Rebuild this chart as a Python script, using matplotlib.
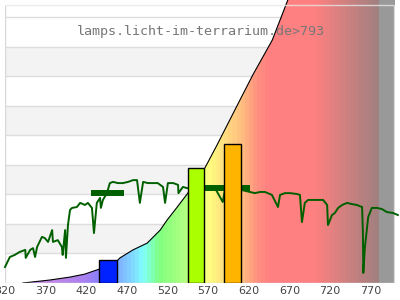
import numpy as np
import matplotlib.pyplot as plt
from matplotlib.patches import Polygon
from matplotlib.colors import to_rgb

# Spectrum of the lamp (wavelength nm, relative value)
spec_nm = [320, 326, 332, 338, 345, 345.5, 351, 354.5, 357, 359.5, 365.5, 369, 373, 378,
           379, 385, 390, 391, 394, 395, 397.5, 400, 402.5, 408.5, 412.5, 418.5, 422, 427,
           429.5, 433, 437, 438, 440.5, 445.5, 449, 453, 459, 465, 471.5, 477.5, 482.5,
           486, 490, 496, 502, 508, 514.5, 517, 520.5, 527, 533, 533.5, 539, 544, 555,
           566, 578.5, 588, 591, 610.5, 621.5, 627.5, 634, 640, 648.5, 656, 658.5, 664.5,
           671, 679.5, 683, 685.5, 689, 693, 699, 705, 711.5, 716.5, 717.5, 722.5, 726,
           730, 735, 741, 747, 753, 759.5, 760.5, 761, 763, 767, 771.5, 778, 784, 790,
           797.5, 803.5]
spec_val = [0.54, 0.88, 0.95, 1.05, 1.12, 0.85, 1.12, 1.18, 0.88, 1.22, 1.56, 1.52, 1.39, 1.79,
            1.39, 1.45, 1.22, 0.95, 1.79, 0.85, 1.96, 2.47, 2.54, 2.57, 2.71, 2.64, 2.71, 2.54,
            1.69, 2.71, 2.88, 2.54, 2.81, 3.04, 3.38, 3.42, 3.38, 3.38, 3.42, 3.48, 3.48,
            2.71, 3.42, 3.38, 3.38, 3.38, 3.25, 2.71, 3.38, 3.38, 3.32, 3.04, 3.25, 3.21, 3.21,
            3.21, 3.21, 2.74, 3.21, 3.15, 3.08, 3.04, 3.08, 3.08, 2.98, 2.57, 2.98, 3.04,
            3.04, 3.01, 2.98, 2.06, 2.71, 2.81, 2.81, 2.81, 2.81, 2.64, 1.96, 2.30, 2.37,
            2.54, 2.64, 2.71, 2.67, 2.64, 2.57, 1.69, 0.34, 1.22, 2.23, 2.54, 2.54, 2.50, 2.40,
            2.37, 2.30]

# Sensitivity curve (top of the coloured area)
curve_nm = [342, 375, 400, 418, 436, 458, 461.5, 477.5, 495, 511, 519.5, 532, 545, 566,
            581, 606, 625, 649, 668, 700, 800]
curve_val = [0.0, 0.1, 0.2, 0.3, 0.47, 0.75, 0.85, 1.12, 1.35, 1.79, 2.13, 2.57, 3.04, 3.89,
             4.67, 6.02, 7.04, 8.22, 9.57, 11.4, 17.0]

# Range averages (thick bars)
avg_start = [426, 566]
avg_end = [467, 622]
avg_val = [3.03, 3.2]

# Blue / green / red bars
bar_left = [436, 545, 590]
bar_right = [458, 565, 610]
bar_height = [0.78, 3.89, 4.70]
bar_colors = ['#0022ff', '#aaff00', '#ffb400']

xticks = list(range(320, 771, 50))
label = 'lamps.licht-im-terrarium.de>793'

# colour stops of the spectrum fill
stop_nm = [320, 380, 420, 440, 460, 480, 490, 500, 510, 530, 550, 570, 590, 610, 630, 645, 700, 780]
stop_col = ['#c890e0', '#c088e8', '#a880f0', '#8080ff', '#80b0ff', '#80e0ff', '#80ffff', '#80ffc0',
            '#80ff80', '#a0ff80', '#c0ff80', '#ffff80', '#ffe080', '#ffc080', '#ff9080', '#ff8080',
            '#ff8080', '#a08080']

px = 29.56          # pixels per grid unit
ytop = 283 / px     # figure top
ybox = 278 / px     # plot frame top

fig = plt.figure(figsize=(4, 3), dpi=100)
ax = fig.add_axes([5 / 400, 17 / 300, 390 / 400, 283 / 300])
ax.set_xlim(320, 800)
ax.set_ylim(0, ytop)
for s in ax.spines.values():
    s.set_visible(False)

# background bands + grid
for k in [1, 3, 5, 7]:
    ax.fill_between([320, 799], k, k + 1, color='#f3f3f3', lw=0, zorder=0)
ax.hlines(range(1, 10), 320, 799, color='#dddddd', lw=1, zorder=0.5)

# coloured fill under the curve
wl = np.arange(320, 800, 1.0)
q = np.floor(wl / 5) * 5 + 2.5
rgb = np.array([to_rgb(c) for c in stop_col])
cols = np.stack([np.interp(q, stop_nm, rgb[:, i]) for i in range(3)], axis=-1)
cols[wl >= 780] = to_rgb('#999999')
img = np.repeat(cols[None, :, :], 2, axis=0)
im = ax.imshow(img, extent=[320, 800, 0, ytop], aspect='auto', origin='lower',
               interpolation='nearest', zorder=1)
poly = Polygon(list(zip(curve_nm, curve_val)) + [(800, 0), (342, 0)], closed=True,
               transform=ax.transData, facecolor='none', edgecolor='none')
ax.add_patch(poly)
im.set_clip_path(poly)
ax.plot(curve_nm, curve_val, color='black', lw=0.8, zorder=2)

# frame
ax.vlines([320, 799], 0, ybox, color='#d8d8d8', lw=1, zorder=2.5)
ax.hlines([0], 320, 799, color='#d8d8d8', lw=1, zorder=2.5)
ax.hlines([ybox], 320, 799, color='#e6e6e6', lw=1, alpha=0.8, zorder=2.5)

# spectrum
ax.plot(spec_nm, spec_val, color='#006000', lw=1.4, zorder=3, clip_on=False)
ax.hlines(avg_val, avg_start, avg_end, color='#006000', lw=4.3, zorder=3)

# bars
for l, r, h, c in zip(bar_left, bar_right, bar_height, bar_colors):
    ax.bar(l, h, width=r - l, align='edge', color=c, edgecolor='black', lw=1, zorder=4)

ax.set_xticks(xticks)
ax.set_yticks([])
ax.tick_params(axis='x', length=0, pad=2.5, labelsize=8, labelcolor='#444444')

fig.text(0.5025, 1 - 32 / 300, label, ha='center', va='center',
         family='DejaVu Sans Mono', fontsize=9.6, color='#777777')

fig.savefig('out.png', dpi=100)
